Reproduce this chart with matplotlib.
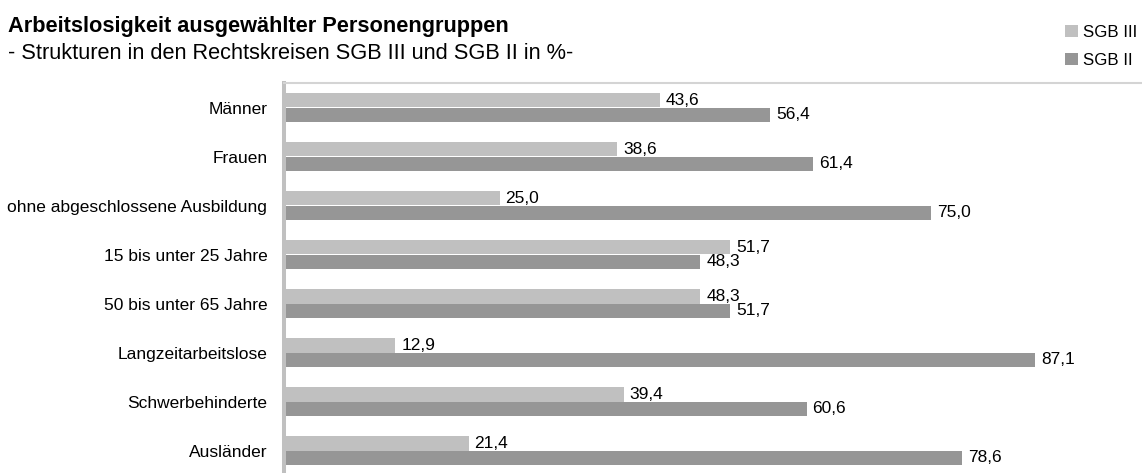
import matplotlib.pyplot as plt
import numpy as np

plt.rcParams['font.family'] = ['Liberation Sans', 'DejaVu Sans']

# Daten
kategorien = ['Männer', 'Frauen', 'ohne abgeschlossene Ausbildung',
              '15 bis unter 25 Jahre', '50 bis unter 65 Jahre',
              'Langzeitarbeitslose', 'Schwerbehinderte', 'Ausländer']
sgb3 = [43.6, 38.6, 25.0, 51.7, 48.3, 12.9, 39.4, 21.4]
sgb2 = [56.4, 61.4, 75.0, 48.3, 51.7, 87.1, 60.6, 78.6]

farbe_sgb3 = '#c0c0c0'
farbe_sgb2 = '#969696'

W, H = 1142, 473
fig = plt.figure(figsize=(W / 100, H / 100), dpi=100)
# Plotbereich: links 284 px, oben 83 px, unten etwas ueber den Rand hinaus
ax = fig.add_axes([284 / W, -2 / H, (W - 284) / W, (H - 83 + 2) / H])

y = np.arange(len(kategorien))
h = 0.296
ax.barh(y - h / 2, sgb3, height=h, color=farbe_sgb3, label='SGB III')
ax.barh(y + h / 2, sgb2, height=h, color=farbe_sgb2, label='SGB II')

for i in range(len(kategorien)):
    ax.text(sgb3[i] + 0.7, y[i] - h / 2, f'{sgb3[i]:.1f}'.replace('.', ','),
            va='center', ha='left', fontsize=12.5)
    ax.text(sgb2[i] + 0.7, y[i] + h / 2, f'{sgb2[i]:.1f}'.replace('.', ','),
            va='center', ha='left', fontsize=12.5)

ax.set_xlim(0, 99.5)
ax.set_ylim(len(kategorien) - 0.5, -0.5)
ax.set_yticks(y)
ax.set_yticklabels(kategorien, fontsize=12.5)
ax.tick_params(axis='y', length=0, pad=12)
ax.set_xticks([])

for s in ['right', 'bottom']:
    ax.spines[s].set_visible(False)
ax.spines['left'].set_color('#c0c0c0')
ax.spines['left'].set_linewidth(2.9)
ax.spines['top'].set_color('#d4d4d4')
ax.spines['top'].set_linewidth(1.5)

# Titel
fig.text(8 / W, 1 - 32 / H, 'Arbeitslosigkeit ausgewählter Personengruppen',
         fontsize=15.7, fontweight='bold', va='baseline', ha='left')
fig.text(8 / W, 1 - 59 / H, '- Strukturen in den Rechtskreisen SGB III und SGB II in %-',
         fontsize=15.7, va='baseline', ha='left')

# Legende
leg = fig.legend(loc='upper right', bbox_to_anchor=(1137 / W, 1 - 25 / H),
                 frameon=False, fontsize=12.2, handlelength=0.72, handleheight=0.72,
                 handletextpad=0.3, labelspacing=0.74, borderpad=0, borderaxespad=0)

fig.savefig('out.png', dpi=100)
